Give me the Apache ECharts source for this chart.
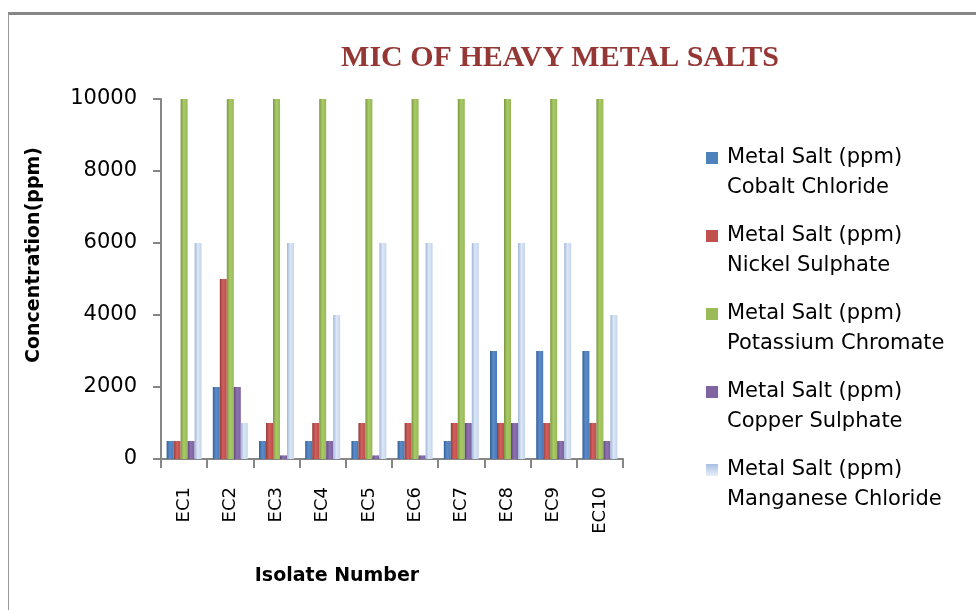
<!DOCTYPE html>
<html>
<head>
<meta charset="utf-8">
<script src="https://cdn.jsdelivr.net/npm/echarts@6/dist/echarts.min.js"></script>
<style>
html,body{margin:0;padding:0;background:#fff;}
#chart{position:absolute;left:0;top:0;width:976px;height:610px;}
#frame{position:absolute;left:8px;top:12px;width:968px;height:598px;border-top:3px solid #868686;border-left:1px solid #9a9a9a;box-sizing:border-box;pointer-events:none;}
</style>
</head>
<body>
<div id="chart"></div>
<div id="frame"></div>
<script>
const categories = ['EC1','EC2','EC3','EC4','EC5','EC6','EC7','EC8','EC9','EC10'];
const cobaltChloride    = [500, 2000, 500, 500, 500, 500, 500, 3000, 3000, 3000];
const nickelSulphate    = [500, 5000, 1000, 1000, 1000, 1000, 1000, 1000, 1000, 1000];
const potassiumChromate = [10000, 10000, 10000, 10000, 10000, 10000, 10000, 10000, 10000, 10000];
const copperSulphate    = [500, 2000, 100, 500, 100, 100, 1000, 1000, 500, 500];
const manganeseChloride = [6000, 1000, 6000, 4000, 6000, 6000, 6000, 6000, 6000, 4000];
const seriesNames = [
  'Metal Salt (ppm) Cobalt Chloride',
  'Metal Salt (ppm) Nickel Sulphate',
  'Metal Salt (ppm) Potassium Chromate',
  'Metal Salt (ppm) Copper Sulphate',
  'Metal Salt (ppm) Manganese Chloride'
];
const yTicks = [0, 2000, 4000, 6000, 8000, 10000];

function grad(c0, c1, c2) {
  return new echarts.graphic.LinearGradient(0, 0, 1, 0, [
    {offset: 0, color: c0}, {offset: 0.45, color: c1}, {offset: 1, color: c2}
  ]);
}
const colors = [
  grad('#345f94', '#5a8cca', '#4a7bb8'),
  grad('#933c3a', '#d0605d', '#bd4e4b'),
  grad('#7a9640', '#a9cb66', '#98b858'),
  grad('#5e4880', '#8e72b0', '#7d62a0'),
  grad('#9fb6da', '#dde7f5', '#c5d5ec')
];
const legendColors = ['#4F81BD', '#C0504D', '#9BBB59', '#8064A2',
  new echarts.graphic.LinearGradient(0, 0, 0, 1, [{offset: 0, color: '#a9bfe2'}, {offset: 1, color: '#e6eef9'}])];
const dataSets = [cobaltChloride, nickelSulphate, potassiumChromate, copperSulphate, manganeseChloride];

const FONT = 'DejaVu Sans';
const chart = echarts.init(document.getElementById('chart'), null, {renderer: 'canvas'});
chart.setOption({
  animation: false,
  backgroundColor: '#fff',
  title: {
    text: 'MIC OF HEAVY METAL SALTS',
    left: 560, top: 43, textAlign: 'center', padding: 0,
    textStyle: {fontFamily: 'Liberation Serif', fontWeight: 'bold', fontSize: 30, color: '#953735'}
  },
  legend: {
    orient: 'vertical',
    left: 706, top: 113, padding: 0,
    itemWidth: 12, itemHeight: 12, itemGap: -12,
    icon: 'rect',
    data: seriesNames.map((n, i) => ({name: n, itemStyle: {color: legendColors[i]}})),
    formatter: function (name) { return '\n' + name.replace('Metal Salt (ppm) ', 'Metal Salt (ppm)\n'); },
    textStyle: {fontFamily: FONT, fontSize: 21, color: '#000', lineHeight: 30, padding: [0, 0, 0, 4]}
  },
  grid: {left: 161, right: 353, top: 99, bottom: 151, containLabel: false},
  xAxis: {
    type: 'category',
    data: categories,
    name: 'Isolate Number',
    nameLocation: 'middle',
    nameGap: 108,
    nameTextStyle: {fontFamily: FONT, fontWeight: 'bold', fontSize: 19, color: '#000', padding: [0, 110, 0, 0]},
    axisLine: {lineStyle: {color: '#868686', width: 2}},
    axisTick: {show: true, length: 9, lineStyle: {color: '#868686', width: 2}},
    axisLabel: {rotate: 90, margin: 28, fontFamily: FONT, fontSize: 18, color: '#000'}
  },
  yAxis: {
    type: 'value',
    min: 0, max: 10000, interval: 2000,
    name: 'Concentration(ppm)',
    nameLocation: 'middle',
    nameGap: 117,
    nameRotate: 90,
    nameTextStyle: {fontFamily: FONT, fontWeight: 'bold', fontSize: 19, color: '#000', padding: [0, 0, 0, 48]},
    axisLine: {show: true, lineStyle: {color: '#868686', width: 2}},
    axisTick: {show: true, length: 8, lineStyle: {color: '#868686', width: 2}},
    axisLabel: {margin: 24, fontFamily: FONT, fontSize: 21, color: '#000',
      formatter: function (v) { return yTicks.indexOf(v) >= 0 ? String(v) : ''; }},
    splitLine: {show: false}
  },
  series: dataSets.map((d, i) => ({
    name: seriesNames[i],
    type: 'bar',
    data: d,
    barWidth: 7,
    barGap: '0%',
    itemStyle: {color: colors[i]}
  }))
});
</script>
</body>
</html>
